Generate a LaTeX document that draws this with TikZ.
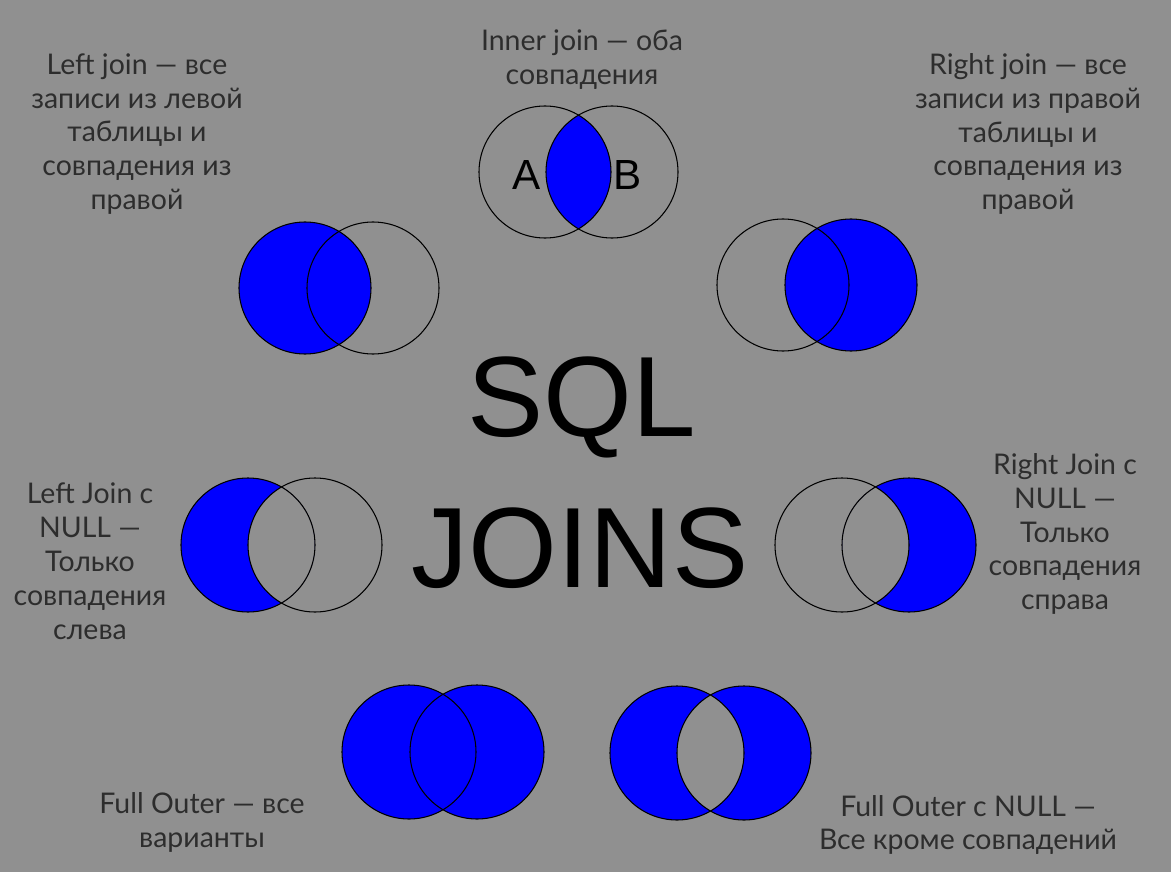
\documentclass[tikz,border=0pt]{standalone}
\usepackage{fontspec}
\setmainfont{Lato}
\newfontfamily\headfont{Liberation Sans}
\definecolor{bggray}{RGB}{144,144,144}
\definecolor{txtgray}{RGB}{45,45,45}
\definecolor{joinblue}{RGB}{0,0,255}

\begin{document}
\begin{tikzpicture}[x=0.02cm, y=-0.02cm,
    ring/.style={draw=black, line width=0.6pt},
    part/.style={fill=joinblue},
    lbl/.style={align=center, text=txtgray, font=\fontsize{16.2}{19.3}\selectfont},
    big/.style={font=\headfont\fontsize{65}{70}\selectfont}]
    \fill[bggray] (0,0) rectangle (1171,872);
    \useasboundingbox (0,0) rectangle (1171,872);

    % inner join
    \begin{scope}
        \clip (545,172) circle (66);
        \fill[part] (612,172) circle (66);
    \end{scope}
    \draw[ring] (545,172) circle (66);
    \draw[ring] (612,172) circle (66);
    \node[font=\headfont\fontsize{24}{26}\selectfont] (a) at (527,175) {A};
    \node[font=\headfont\fontsize{24}{26}\selectfont] (b) at (628,175) {B};
    \node[lbl] (inner) at (582,60) {Inner join — оба\\совпадения};

    % left join
    \fill[part] (305,288) circle (66);
    \draw[ring] (305,288) circle (66);
    \draw[ring] (373,288) circle (66);
    \node[lbl] (left) at (137,134) {Left join — все\\записи из левой\\таблицы и\\совпадения из\\правой};

    % right join
    \fill[part] (851,285) circle (66);
    \draw[ring] (783,285) circle (66);
    \draw[ring] (851,285) circle (66);
    \node[lbl] (right) at (1028,134) {Right join — все\\записи из правой\\таблицы и\\совпадения из\\правой};

    % left join with null
    \begin{scope}
        \clip (248,545) circle (67);
        \fill[part, even odd rule] (248,545) circle (67) (315,545) circle (67);
    \end{scope}
    \draw[ring] (248,545) circle (67);
    \draw[ring] (315,545) circle (67);
    \node[lbl] (leftnull) at (90,561) {Left Join с\\NULL —\\Только\\совпадения\\слева};

    % right join with null
    \begin{scope}
        \clip (909,545) circle (67);
        \fill[part, even odd rule] (842,545) circle (67) (909,545) circle (67);
    \end{scope}
    \draw[ring] (842,545) circle (67);
    \draw[ring] (909,545) circle (67);
    \node[lbl] (rightnull) at (1065,534) {Right Join с\\NULL —\\Только\\совпадения\\справа};

    % full outer
    \fill[part] (409,752) circle (67) (477,752) circle (67);
    \draw[ring] (409,752) circle (67);
    \draw[ring] (477,752) circle (67);
    \node[lbl] (full) at (202,822) {Full Outer — все\\варианты};

    % full outer with null
    \fill[part, even odd rule] (677,753) circle (67) (744,753) circle (67);
    \draw[ring] (677,753) circle (67);
    \draw[ring] (744,753) circle (67);
    \node[lbl] (fullnull) at (968,825) {Full Outer с NULL —\\Все кроме совпадений};

    % title
    \node[big] (sql) at (582,407) {SQL};
    \node[big] (joins) at (580,548) {JOINS};
\end{tikzpicture}
\end{document}
